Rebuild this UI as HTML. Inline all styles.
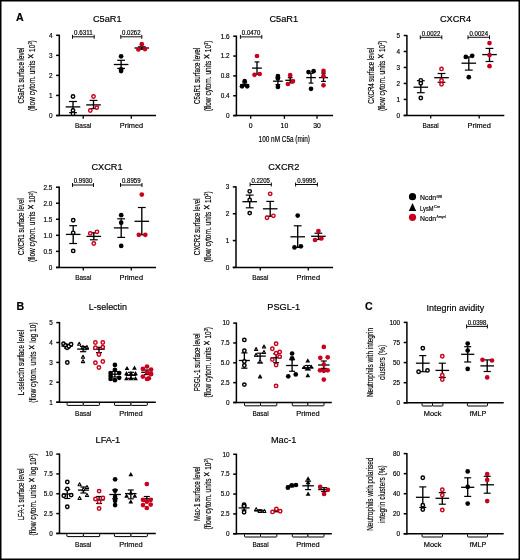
<!DOCTYPE html><html><head><meta charset="utf-8"><style>html,body{margin:0;padding:0;background:#fff;overflow:hidden;width:520px;height:560px;}svg{display:block;will-change:transform;} text{stroke:#000;stroke-width:0.18px;}</style></head><body><svg width="520" height="560" viewBox="0 0 520 560" font-family='"Liberation Sans", sans-serif'>
<rect x="0" y="0" width="520" height="560" fill="#fff"/>
<text x="16.1" y="21.0" font-size="10.6" text-anchor="start" font-weight="bold" fill="#000">A</text>
<text x="16.4" y="310.4" font-size="10.6" text-anchor="start" font-weight="bold" fill="#000">B</text>
<text x="365.1" y="310.4" font-size="10.6" text-anchor="start" font-weight="bold" fill="#000">C</text>
<line x1="59.3" y1="34.699999999999996" x2="59.3" y2="116.1" stroke="#000" stroke-width="1.5"/>
<line x1="56.099999999999994" y1="115.5" x2="156" y2="115.5" stroke="#000" stroke-width="1.5"/>
<line x1="56.099999999999994" y1="115.5" x2="59.3" y2="115.5" stroke="#000" stroke-width="1.5"/>
<text transform="translate(52.5,117.8) scale(0.89,1)" font-size="7.2" text-anchor="end" font-weight="normal" fill="#000" stroke-width="0.1">0</text>
<line x1="56.099999999999994" y1="95.45" x2="59.3" y2="95.45" stroke="#000" stroke-width="1.5"/>
<text transform="translate(52.5,97.75) scale(0.89,1)" font-size="7.2" text-anchor="end" font-weight="normal" fill="#000" stroke-width="0.1">1</text>
<line x1="56.099999999999994" y1="75.4" x2="59.3" y2="75.4" stroke="#000" stroke-width="1.5"/>
<text transform="translate(52.5,77.7) scale(0.89,1)" font-size="7.2" text-anchor="end" font-weight="normal" fill="#000" stroke-width="0.1">2</text>
<line x1="56.099999999999994" y1="55.35" x2="59.3" y2="55.35" stroke="#000" stroke-width="1.5"/>
<text transform="translate(52.5,57.65) scale(0.89,1)" font-size="7.2" text-anchor="end" font-weight="normal" fill="#000" stroke-width="0.1">3</text>
<line x1="56.099999999999994" y1="35.3" x2="59.3" y2="35.3" stroke="#000" stroke-width="1.5"/>
<text transform="translate(52.5,37.599999999999994) scale(0.89,1)" font-size="7.2" text-anchor="end" font-weight="normal" fill="#000" stroke-width="0.1">4</text>
<line x1="83.2" y1="115.5" x2="83.2" y2="118.7" stroke="#000" stroke-width="1.3"/>
<line x1="131.3" y1="115.5" x2="131.3" y2="118.7" stroke="#000" stroke-width="1.3"/>
<text x="83.1" y="127.6" font-size="7.6" text-anchor="middle" font-weight="normal" fill="#000" textLength="16.2" lengthAdjust="spacingAndGlyphs" stroke-width="0.1">Basal</text>
<text x="131.5" y="127.6" font-size="7.6" text-anchor="middle" font-weight="normal" fill="#000" textLength="23.4" lengthAdjust="spacingAndGlyphs" stroke-width="0.1">Primed</text>
<text x="107.2" y="21.5" font-size="9.2" text-anchor="middle" font-weight="normal" fill="#000" stroke-width="0.08">C5aR1</text>
<line x1="72.5" y1="36.8" x2="94.2" y2="36.8" stroke="#000" stroke-width="0.95"/>
<line x1="72.5" y1="34.8" x2="72.5" y2="38.8" stroke="#000" stroke-width="0.95"/>
<line x1="94.2" y1="34.8" x2="94.2" y2="38.8" stroke="#000" stroke-width="0.95"/>
<text x="83.35" y="35.0" font-size="6.6" text-anchor="middle" font-weight="normal" fill="#000" textLength="18.5" lengthAdjust="spacingAndGlyphs" stroke-width="0.05">0.6311</text>
<line x1="120.8" y1="36.8" x2="141.8" y2="36.8" stroke="#000" stroke-width="0.95"/>
<line x1="120.8" y1="34.8" x2="120.8" y2="38.8" stroke="#000" stroke-width="0.95"/>
<line x1="141.8" y1="34.8" x2="141.8" y2="38.8" stroke="#000" stroke-width="0.95"/>
<text x="131.3" y="35.0" font-size="6.6" text-anchor="middle" font-weight="normal" fill="#000" textLength="18.5" lengthAdjust="spacingAndGlyphs" stroke-width="0.05">0.0262</text>
<line x1="73.0" y1="101.5" x2="73.0" y2="112.6" stroke="#000" stroke-width="1.35"/>
<line x1="69.1" y1="101.5" x2="76.9" y2="101.5" stroke="#000" stroke-width="1.2"/>
<line x1="69.1" y1="112.6" x2="76.9" y2="112.6" stroke="#000" stroke-width="1.2"/>
<line x1="65.7" y1="106.9" x2="80.3" y2="106.9" stroke="#000" stroke-width="1.3"/>
<circle cx="73.0" cy="96.5" r="1.7" fill="#fff" stroke="#000" stroke-width="1.45"/>
<circle cx="73.0" cy="110.5" r="1.7" fill="#fff" stroke="#000" stroke-width="1.45"/>
<circle cx="73.0" cy="113.8" r="1.7" fill="#fff" stroke="#000" stroke-width="1.45"/>
<line x1="93.5" y1="100.4" x2="93.5" y2="108.6" stroke="#000" stroke-width="1.35"/>
<line x1="89.6" y1="100.4" x2="97.4" y2="100.4" stroke="#000" stroke-width="1.2"/>
<line x1="89.6" y1="108.6" x2="97.4" y2="108.6" stroke="#000" stroke-width="1.2"/>
<line x1="86.2" y1="104.9" x2="100.8" y2="104.9" stroke="#000" stroke-width="1.3"/>
<circle cx="93.5" cy="96.5" r="1.7" fill="#fff" stroke="#c8001c" stroke-width="1.45"/>
<circle cx="90.3" cy="110.5" r="1.7" fill="#fff" stroke="#c8001c" stroke-width="1.45"/>
<circle cx="96.8" cy="107.6" r="1.7" fill="#fff" stroke="#c8001c" stroke-width="1.45"/>
<line x1="121.1" y1="60.3" x2="121.1" y2="68.4" stroke="#000" stroke-width="1.35"/>
<line x1="117.19999999999999" y1="60.3" x2="125.0" y2="60.3" stroke="#000" stroke-width="1.2"/>
<line x1="117.19999999999999" y1="68.4" x2="125.0" y2="68.4" stroke="#000" stroke-width="1.2"/>
<line x1="113.8" y1="64.5" x2="128.4" y2="64.5" stroke="#000" stroke-width="1.3"/>
<circle cx="121.1" cy="56.3" r="2.35" fill="#000"/>
<circle cx="121.1" cy="69.4" r="2.35" fill="#000"/>
<circle cx="121.1" cy="71.1" r="2.35" fill="#000"/>
<line x1="141.8" y1="46.8" x2="141.8" y2="49.2" stroke="#000" stroke-width="1.35"/>
<line x1="137.9" y1="46.8" x2="145.70000000000002" y2="46.8" stroke="#000" stroke-width="1.2"/>
<line x1="137.9" y1="49.2" x2="145.70000000000002" y2="49.2" stroke="#000" stroke-width="1.2"/>
<line x1="134.5" y1="48.0" x2="149.10000000000002" y2="48.0" stroke="#000" stroke-width="1.3"/>
<circle cx="141.8" cy="44.2" r="2.35" fill="#c8001c"/>
<circle cx="138.4" cy="49.5" r="2.35" fill="#c8001c"/>
<circle cx="145.0" cy="49.1" r="2.35" fill="#c8001c"/>
<text transform="translate(23.5,75.6) rotate(-90)" x="0" y="0" font-size="9.6" text-anchor="middle" textLength="56" lengthAdjust="spacingAndGlyphs">C5aR1 surface level</text>
<text transform="translate(34.6,75.6) rotate(-90)" x="0" y="0" font-size="9.6" text-anchor="middle" textLength="70.6" lengthAdjust="spacingAndGlyphs">(flow cytom. units <tspan font-size="12.5">×</tspan> 10<tspan font-size="5.6" dy="-2.5">3</tspan><tspan dy="2.5">)</tspan></text>
<line x1="236.4" y1="35.6" x2="236.4" y2="116.19999999999999" stroke="#000" stroke-width="1.5"/>
<line x1="233.20000000000002" y1="115.6" x2="333" y2="115.6" stroke="#000" stroke-width="1.5"/>
<line x1="233.20000000000002" y1="115.6" x2="236.4" y2="115.6" stroke="#000" stroke-width="1.5"/>
<text transform="translate(229.6,117.89999999999999) scale(0.89,1)" font-size="7.2" text-anchor="end" font-weight="normal" fill="#000" stroke-width="0.1">0</text>
<line x1="233.20000000000002" y1="95.75" x2="236.4" y2="95.75" stroke="#000" stroke-width="1.5"/>
<text transform="translate(229.6,98.05) scale(0.89,1)" font-size="7.2" text-anchor="end" font-weight="normal" fill="#000" stroke-width="0.1">0.4</text>
<line x1="233.20000000000002" y1="75.9" x2="236.4" y2="75.9" stroke="#000" stroke-width="1.5"/>
<text transform="translate(229.6,78.2) scale(0.89,1)" font-size="7.2" text-anchor="end" font-weight="normal" fill="#000" stroke-width="0.1">0.8</text>
<line x1="233.20000000000002" y1="56.05" x2="236.4" y2="56.05" stroke="#000" stroke-width="1.5"/>
<text transform="translate(229.6,58.349999999999994) scale(0.89,1)" font-size="7.2" text-anchor="end" font-weight="normal" fill="#000" stroke-width="0.1">1.2</text>
<line x1="233.20000000000002" y1="36.2" x2="236.4" y2="36.2" stroke="#000" stroke-width="1.5"/>
<text transform="translate(229.6,38.5) scale(0.89,1)" font-size="7.2" text-anchor="end" font-weight="normal" fill="#000" stroke-width="0.1">1.6</text>
<line x1="250.7" y1="115.6" x2="250.7" y2="118.8" stroke="#000" stroke-width="1.3"/>
<line x1="284.4" y1="115.6" x2="284.4" y2="118.8" stroke="#000" stroke-width="1.3"/>
<line x1="317.0" y1="115.6" x2="317.0" y2="118.8" stroke="#000" stroke-width="1.3"/>
<text x="250.7" y="128.3" font-size="6.8" text-anchor="middle" font-weight="normal" fill="#000" stroke-width="0.1">0</text>
<text x="284.4" y="128.3" font-size="6.8" text-anchor="middle" font-weight="normal" fill="#000" stroke-width="0.1">10</text>
<text x="317.0" y="128.3" font-size="6.8" text-anchor="middle" font-weight="normal" fill="#000" stroke-width="0.1">30</text>
<text x="284.3" y="141.7" font-size="8.8" text-anchor="middle" font-weight="normal" fill="#000" textLength="51.4" lengthAdjust="spacingAndGlyphs">100 nM C5a (min)</text>
<text x="283.75" y="21.5" font-size="9.2" text-anchor="middle" font-weight="normal" fill="#000" stroke-width="0.08">C5aR1</text>
<line x1="240.4" y1="36.9" x2="261.8" y2="36.9" stroke="#000" stroke-width="0.95"/>
<line x1="240.4" y1="34.9" x2="240.4" y2="38.9" stroke="#000" stroke-width="0.95"/>
<line x1="261.8" y1="34.9" x2="261.8" y2="38.9" stroke="#000" stroke-width="0.95"/>
<text x="251.10000000000002" y="35.1" font-size="6.6" text-anchor="middle" font-weight="normal" fill="#000" textLength="18.5" lengthAdjust="spacingAndGlyphs" stroke-width="0.05">0.0470</text>
<line x1="244.7" y1="83.0" x2="244.7" y2="86.0" stroke="#000" stroke-width="1.35"/>
<line x1="242.2" y1="83.0" x2="247.2" y2="83.0" stroke="#000" stroke-width="1.2"/>
<line x1="242.2" y1="86.0" x2="247.2" y2="86.0" stroke="#000" stroke-width="1.2"/>
<line x1="240.2" y1="84.6" x2="249.2" y2="84.6" stroke="#000" stroke-width="1.3"/>
<circle cx="244.7" cy="81.2" r="2.35" fill="#000"/>
<circle cx="242.0" cy="86.3" r="2.35" fill="#000"/>
<circle cx="247.2" cy="86.3" r="2.35" fill="#000"/>
<line x1="257.0" y1="61.9" x2="257.0" y2="74.3" stroke="#000" stroke-width="1.35"/>
<line x1="254.6" y1="61.9" x2="259.4" y2="61.9" stroke="#000" stroke-width="1.2"/>
<line x1="254.6" y1="74.3" x2="259.4" y2="74.3" stroke="#000" stroke-width="1.2"/>
<line x1="252.1" y1="68.1" x2="261.9" y2="68.1" stroke="#000" stroke-width="1.3"/>
<circle cx="257.0" cy="56.0" r="2.35" fill="#c8001c"/>
<circle cx="254.5" cy="74.8" r="2.35" fill="#c8001c"/>
<circle cx="259.7" cy="74.0" r="2.35" fill="#c8001c"/>
<line x1="277.9" y1="77.5" x2="277.9" y2="84.6" stroke="#000" stroke-width="1.35"/>
<line x1="275.5" y1="77.5" x2="280.29999999999995" y2="77.5" stroke="#000" stroke-width="1.2"/>
<line x1="275.5" y1="84.6" x2="280.29999999999995" y2="84.6" stroke="#000" stroke-width="1.2"/>
<line x1="273.0" y1="81.2" x2="282.79999999999995" y2="81.2" stroke="#000" stroke-width="1.3"/>
<circle cx="277.9" cy="76.0" r="2.35" fill="#000"/>
<circle cx="277.9" cy="78.5" r="2.35" fill="#000"/>
<circle cx="277.9" cy="86.9" r="2.35" fill="#000"/>
<line x1="290.2" y1="77.7" x2="290.2" y2="82.9" stroke="#000" stroke-width="1.35"/>
<line x1="287.8" y1="77.7" x2="292.59999999999997" y2="77.7" stroke="#000" stroke-width="1.2"/>
<line x1="287.8" y1="82.9" x2="292.59999999999997" y2="82.9" stroke="#000" stroke-width="1.2"/>
<line x1="285.3" y1="80.3" x2="295.09999999999997" y2="80.3" stroke="#000" stroke-width="1.3"/>
<circle cx="290.2" cy="75.2" r="2.35" fill="#c8001c"/>
<circle cx="287.9" cy="84.0" r="2.35" fill="#c8001c"/>
<circle cx="292.8" cy="81.4" r="2.35" fill="#c8001c"/>
<line x1="311.0" y1="73.3" x2="311.0" y2="83.1" stroke="#000" stroke-width="1.35"/>
<line x1="308.6" y1="73.3" x2="313.4" y2="73.3" stroke="#000" stroke-width="1.2"/>
<line x1="308.6" y1="83.1" x2="313.4" y2="83.1" stroke="#000" stroke-width="1.2"/>
<line x1="306.2" y1="77.6" x2="315.8" y2="77.6" stroke="#000" stroke-width="1.3"/>
<circle cx="308.5" cy="72.1" r="2.35" fill="#000"/>
<circle cx="313.6" cy="71.2" r="2.35" fill="#000"/>
<circle cx="311.0" cy="88.8" r="2.35" fill="#000"/>
<line x1="323.5" y1="73.1" x2="323.5" y2="81.4" stroke="#000" stroke-width="1.35"/>
<line x1="321.1" y1="73.1" x2="325.9" y2="73.1" stroke="#000" stroke-width="1.2"/>
<line x1="321.1" y1="81.4" x2="325.9" y2="81.4" stroke="#000" stroke-width="1.2"/>
<line x1="318.9" y1="77.6" x2="328.1" y2="77.6" stroke="#000" stroke-width="1.3"/>
<circle cx="323.5" cy="70.9" r="2.35" fill="#c8001c"/>
<circle cx="323.5" cy="76.2" r="2.35" fill="#c8001c"/>
<circle cx="323.5" cy="85.3" r="2.35" fill="#c8001c"/>
<text transform="translate(199.8,75.9) rotate(-90)" x="0" y="0" font-size="9.6" text-anchor="middle" textLength="56" lengthAdjust="spacingAndGlyphs">C5aR1 surface level</text>
<text transform="translate(210.5,75.9) rotate(-90)" x="0" y="0" font-size="9.6" text-anchor="middle" textLength="70.6" lengthAdjust="spacingAndGlyphs">(flow cytom. units <tspan font-size="12.5">×</tspan> 10<tspan font-size="5.6" dy="-2.5">3</tspan><tspan dy="2.5">)</tspan></text>
<line x1="406.9" y1="34.9" x2="406.9" y2="116.0" stroke="#000" stroke-width="1.5"/>
<line x1="403.7" y1="115.4" x2="504.3" y2="115.4" stroke="#000" stroke-width="1.5"/>
<line x1="403.7" y1="115.4" x2="406.9" y2="115.4" stroke="#000" stroke-width="1.5"/>
<text transform="translate(400.09999999999997,117.7) scale(0.89,1)" font-size="7.2" text-anchor="end" font-weight="normal" fill="#000" stroke-width="0.1">0</text>
<line x1="403.7" y1="99.42" x2="406.9" y2="99.42" stroke="#000" stroke-width="1.5"/>
<text transform="translate(400.09999999999997,101.72) scale(0.89,1)" font-size="7.2" text-anchor="end" font-weight="normal" fill="#000" stroke-width="0.1">1</text>
<line x1="403.7" y1="83.44" x2="406.9" y2="83.44" stroke="#000" stroke-width="1.5"/>
<text transform="translate(400.09999999999997,85.74) scale(0.89,1)" font-size="7.2" text-anchor="end" font-weight="normal" fill="#000" stroke-width="0.1">2</text>
<line x1="403.7" y1="67.46" x2="406.9" y2="67.46" stroke="#000" stroke-width="1.5"/>
<text transform="translate(400.09999999999997,69.75999999999999) scale(0.89,1)" font-size="7.2" text-anchor="end" font-weight="normal" fill="#000" stroke-width="0.1">3</text>
<line x1="403.7" y1="51.48" x2="406.9" y2="51.48" stroke="#000" stroke-width="1.5"/>
<text transform="translate(400.09999999999997,53.779999999999994) scale(0.89,1)" font-size="7.2" text-anchor="end" font-weight="normal" fill="#000" stroke-width="0.1">4</text>
<line x1="403.7" y1="35.5" x2="406.9" y2="35.5" stroke="#000" stroke-width="1.5"/>
<text transform="translate(400.09999999999997,37.8) scale(0.89,1)" font-size="7.2" text-anchor="end" font-weight="normal" fill="#000" stroke-width="0.1">5</text>
<line x1="430.7" y1="115.3" x2="430.7" y2="118.5" stroke="#000" stroke-width="1.3"/>
<line x1="479.2" y1="115.3" x2="479.2" y2="118.5" stroke="#000" stroke-width="1.3"/>
<text x="430.7" y="127.6" font-size="7.6" text-anchor="middle" font-weight="normal" fill="#000" textLength="16.2" lengthAdjust="spacingAndGlyphs" stroke-width="0.1">Basal</text>
<text x="479.2" y="127.6" font-size="7.6" text-anchor="middle" font-weight="normal" fill="#000" textLength="23.4" lengthAdjust="spacingAndGlyphs" stroke-width="0.1">Primed</text>
<text x="455.5" y="21.5" font-size="9.2" text-anchor="middle" font-weight="normal" fill="#000" stroke-width="0.08">CXCR4</text>
<line x1="420.3" y1="37.3" x2="441.8" y2="37.3" stroke="#000" stroke-width="0.95"/>
<line x1="420.3" y1="35.3" x2="420.3" y2="39.3" stroke="#000" stroke-width="0.95"/>
<line x1="441.8" y1="35.3" x2="441.8" y2="39.3" stroke="#000" stroke-width="0.95"/>
<text x="431.05" y="35.5" font-size="6.6" text-anchor="middle" font-weight="normal" fill="#000" textLength="18.5" lengthAdjust="spacingAndGlyphs" stroke-width="0.05">0.0022</text>
<line x1="468.0" y1="37.3" x2="489.5" y2="37.3" stroke="#000" stroke-width="0.95"/>
<line x1="468.0" y1="35.3" x2="468.0" y2="39.3" stroke="#000" stroke-width="0.95"/>
<line x1="489.5" y1="35.3" x2="489.5" y2="39.3" stroke="#000" stroke-width="0.95"/>
<text x="478.75" y="35.5" font-size="6.6" text-anchor="middle" font-weight="normal" fill="#000" textLength="18.5" lengthAdjust="spacingAndGlyphs" stroke-width="0.05">0.0024</text>
<line x1="420.8" y1="80.7" x2="420.8" y2="92.7" stroke="#000" stroke-width="1.35"/>
<line x1="416.90000000000003" y1="80.7" x2="424.7" y2="80.7" stroke="#000" stroke-width="1.2"/>
<line x1="416.90000000000003" y1="92.7" x2="424.7" y2="92.7" stroke="#000" stroke-width="1.2"/>
<line x1="413.5" y1="87.2" x2="428.1" y2="87.2" stroke="#000" stroke-width="1.3"/>
<circle cx="420.8" cy="80.3" r="1.7" fill="#fff" stroke="#000" stroke-width="1.45"/>
<circle cx="420.8" cy="83.2" r="1.7" fill="#fff" stroke="#000" stroke-width="1.45"/>
<circle cx="420.8" cy="98.0" r="1.7" fill="#fff" stroke="#000" stroke-width="1.45"/>
<line x1="441.5" y1="73.5" x2="441.5" y2="82.3" stroke="#000" stroke-width="1.35"/>
<line x1="437.6" y1="73.5" x2="445.4" y2="73.5" stroke="#000" stroke-width="1.2"/>
<line x1="437.6" y1="82.3" x2="445.4" y2="82.3" stroke="#000" stroke-width="1.2"/>
<line x1="434.2" y1="77.7" x2="448.8" y2="77.7" stroke="#000" stroke-width="1.3"/>
<circle cx="441.5" cy="68.9" r="1.7" fill="#fff" stroke="#c8001c" stroke-width="1.45"/>
<circle cx="441.5" cy="80.5" r="1.7" fill="#fff" stroke="#c8001c" stroke-width="1.45"/>
<circle cx="441.5" cy="84.2" r="1.7" fill="#fff" stroke="#c8001c" stroke-width="1.45"/>
<line x1="468.8" y1="56.9" x2="468.8" y2="70.1" stroke="#000" stroke-width="1.35"/>
<line x1="464.90000000000003" y1="56.9" x2="472.7" y2="56.9" stroke="#000" stroke-width="1.2"/>
<line x1="464.90000000000003" y1="70.1" x2="472.7" y2="70.1" stroke="#000" stroke-width="1.2"/>
<line x1="461.5" y1="63.2" x2="476.1" y2="63.2" stroke="#000" stroke-width="1.3"/>
<circle cx="465.8" cy="56.9" r="2.35" fill="#000"/>
<circle cx="472.2" cy="55.8" r="2.35" fill="#000"/>
<circle cx="468.8" cy="77.2" r="2.35" fill="#000"/>
<line x1="489.5" y1="48.4" x2="489.5" y2="61.5" stroke="#000" stroke-width="1.35"/>
<line x1="485.6" y1="48.4" x2="493.4" y2="48.4" stroke="#000" stroke-width="1.2"/>
<line x1="485.6" y1="61.5" x2="493.4" y2="61.5" stroke="#000" stroke-width="1.2"/>
<line x1="482.2" y1="54.6" x2="496.8" y2="54.6" stroke="#000" stroke-width="1.3"/>
<circle cx="489.5" cy="43.1" r="2.35" fill="#c8001c"/>
<circle cx="489.5" cy="55.1" r="2.35" fill="#c8001c"/>
<circle cx="489.5" cy="66.2" r="2.35" fill="#c8001c"/>
<text transform="translate(373.5,75.8) rotate(-90)" x="0" y="0" font-size="9.6" text-anchor="middle" textLength="56" lengthAdjust="spacingAndGlyphs">CXCR4 surface level</text>
<text transform="translate(384.6,75.8) rotate(-90)" x="0" y="0" font-size="9.6" text-anchor="middle" textLength="70.6" lengthAdjust="spacingAndGlyphs">(flow cytom. units <tspan font-size="12.5">×</tspan> 10<tspan font-size="5.6" dy="-2.5">3</tspan><tspan dy="2.5">)</tspan></text>
<line x1="59.2" y1="186.6" x2="59.2" y2="268.0" stroke="#000" stroke-width="1.5"/>
<line x1="56.0" y1="267.4" x2="156" y2="267.4" stroke="#000" stroke-width="1.5"/>
<line x1="56.0" y1="267.4" x2="59.2" y2="267.4" stroke="#000" stroke-width="1.5"/>
<text transform="translate(52.400000000000006,269.7) scale(0.89,1)" font-size="7.2" text-anchor="end" font-weight="normal" fill="#000" stroke-width="0.1">0</text>
<line x1="56.0" y1="251.36" x2="59.2" y2="251.36" stroke="#000" stroke-width="1.5"/>
<text transform="translate(52.400000000000006,253.66000000000003) scale(0.89,1)" font-size="7.2" text-anchor="end" font-weight="normal" fill="#000" stroke-width="0.1">0.5</text>
<line x1="56.0" y1="235.32" x2="59.2" y2="235.32" stroke="#000" stroke-width="1.5"/>
<text transform="translate(52.400000000000006,237.62) scale(0.89,1)" font-size="7.2" text-anchor="end" font-weight="normal" fill="#000" stroke-width="0.1">1.0</text>
<line x1="56.0" y1="219.28" x2="59.2" y2="219.28" stroke="#000" stroke-width="1.5"/>
<text transform="translate(52.400000000000006,221.58) scale(0.89,1)" font-size="7.2" text-anchor="end" font-weight="normal" fill="#000" stroke-width="0.1">1.5</text>
<line x1="56.0" y1="203.24" x2="59.2" y2="203.24" stroke="#000" stroke-width="1.5"/>
<text transform="translate(52.400000000000006,205.54000000000002) scale(0.89,1)" font-size="7.2" text-anchor="end" font-weight="normal" fill="#000" stroke-width="0.1">2.0</text>
<line x1="56.0" y1="187.2" x2="59.2" y2="187.2" stroke="#000" stroke-width="1.5"/>
<text transform="translate(52.400000000000006,189.5) scale(0.89,1)" font-size="7.2" text-anchor="end" font-weight="normal" fill="#000" stroke-width="0.1">2.5</text>
<line x1="83.3" y1="267.4" x2="83.3" y2="270.59999999999997" stroke="#000" stroke-width="1.3"/>
<line x1="131.3" y1="267.4" x2="131.3" y2="270.59999999999997" stroke="#000" stroke-width="1.3"/>
<text x="83.3" y="280.2" font-size="7.6" text-anchor="middle" font-weight="normal" fill="#000" textLength="16.2" lengthAdjust="spacingAndGlyphs" stroke-width="0.1">Basal</text>
<text x="131.3" y="280.2" font-size="7.6" text-anchor="middle" font-weight="normal" fill="#000" textLength="23.4" lengthAdjust="spacingAndGlyphs" stroke-width="0.1">Primed</text>
<text x="107.0" y="170.3" font-size="9.2" text-anchor="middle" font-weight="normal" fill="#000" stroke-width="0.08">CXCR1</text>
<line x1="72.5" y1="185.0" x2="93.5" y2="185.0" stroke="#000" stroke-width="0.95"/>
<line x1="72.5" y1="183.0" x2="72.5" y2="187.0" stroke="#000" stroke-width="0.95"/>
<line x1="93.5" y1="183.0" x2="93.5" y2="187.0" stroke="#000" stroke-width="0.95"/>
<text x="83.0" y="183.2" font-size="6.6" text-anchor="middle" font-weight="normal" fill="#000" textLength="18.5" lengthAdjust="spacingAndGlyphs" stroke-width="0.05">0.9930</text>
<line x1="120.5" y1="185.0" x2="142.0" y2="185.0" stroke="#000" stroke-width="0.95"/>
<line x1="120.5" y1="183.0" x2="120.5" y2="187.0" stroke="#000" stroke-width="0.95"/>
<line x1="142.0" y1="183.0" x2="142.0" y2="187.0" stroke="#000" stroke-width="0.95"/>
<text x="131.25" y="183.2" font-size="6.6" text-anchor="middle" font-weight="normal" fill="#000" textLength="18.5" lengthAdjust="spacingAndGlyphs" stroke-width="0.05">0.8959</text>
<line x1="73.2" y1="225.7" x2="73.2" y2="243.5" stroke="#000" stroke-width="1.35"/>
<line x1="69.3" y1="225.7" x2="77.10000000000001" y2="225.7" stroke="#000" stroke-width="1.2"/>
<line x1="69.3" y1="243.5" x2="77.10000000000001" y2="243.5" stroke="#000" stroke-width="1.2"/>
<line x1="65.9" y1="234.4" x2="80.5" y2="234.4" stroke="#000" stroke-width="1.3"/>
<circle cx="73.2" cy="220.2" r="1.7" fill="#fff" stroke="#000" stroke-width="1.45"/>
<circle cx="73.2" cy="232.8" r="1.7" fill="#fff" stroke="#000" stroke-width="1.45"/>
<circle cx="73.2" cy="250.9" r="1.7" fill="#fff" stroke="#000" stroke-width="1.45"/>
<line x1="93.8" y1="232.8" x2="93.8" y2="239.8" stroke="#000" stroke-width="1.35"/>
<line x1="89.89999999999999" y1="232.8" x2="97.7" y2="232.8" stroke="#000" stroke-width="1.2"/>
<line x1="89.89999999999999" y1="239.8" x2="97.7" y2="239.8" stroke="#000" stroke-width="1.2"/>
<line x1="86.5" y1="236.4" x2="101.1" y2="236.4" stroke="#000" stroke-width="1.3"/>
<circle cx="90.3" cy="233.4" r="1.7" fill="#fff" stroke="#c8001c" stroke-width="1.45"/>
<circle cx="97.0" cy="231.8" r="1.7" fill="#fff" stroke="#c8001c" stroke-width="1.45"/>
<circle cx="93.8" cy="243.5" r="1.7" fill="#fff" stroke="#c8001c" stroke-width="1.45"/>
<line x1="121.2" y1="218.8" x2="121.2" y2="237.4" stroke="#000" stroke-width="1.35"/>
<line x1="117.3" y1="218.8" x2="125.10000000000001" y2="218.8" stroke="#000" stroke-width="1.2"/>
<line x1="117.3" y1="237.4" x2="125.10000000000001" y2="237.4" stroke="#000" stroke-width="1.2"/>
<line x1="113.9" y1="227.9" x2="128.5" y2="227.9" stroke="#000" stroke-width="1.3"/>
<circle cx="121.2" cy="215.2" r="2.35" fill="#000"/>
<circle cx="121.2" cy="222.7" r="2.35" fill="#000"/>
<circle cx="121.2" cy="245.9" r="2.35" fill="#000"/>
<line x1="141.8" y1="207.5" x2="141.8" y2="234.8" stroke="#000" stroke-width="1.35"/>
<line x1="137.9" y1="207.5" x2="145.70000000000002" y2="207.5" stroke="#000" stroke-width="1.2"/>
<line x1="137.9" y1="234.8" x2="145.70000000000002" y2="234.8" stroke="#000" stroke-width="1.2"/>
<line x1="134.5" y1="221.3" x2="149.10000000000002" y2="221.3" stroke="#000" stroke-width="1.3"/>
<circle cx="141.8" cy="194.6" r="2.35" fill="#c8001c"/>
<circle cx="138.8" cy="234.8" r="2.35" fill="#c8001c"/>
<circle cx="145.3" cy="234.8" r="2.35" fill="#c8001c"/>
<text transform="translate(24.0,226.6) rotate(-90)" x="0" y="0" font-size="9.6" text-anchor="middle" textLength="56.7" lengthAdjust="spacingAndGlyphs">CXCR1 surface level</text>
<text transform="translate(35.1,226.6) rotate(-90)" x="0" y="0" font-size="9.6" text-anchor="middle" textLength="70.9" lengthAdjust="spacingAndGlyphs">(flow cytom. units <tspan font-size="12.5">×</tspan> 10<tspan font-size="5.6" dy="-2.5">3</tspan><tspan dy="2.5">)</tspan></text>
<line x1="236.0" y1="186.3" x2="236.0" y2="268.0" stroke="#000" stroke-width="1.5"/>
<line x1="232.8" y1="267.4" x2="333" y2="267.4" stroke="#000" stroke-width="1.5"/>
<line x1="232.8" y1="267.4" x2="236.0" y2="267.4" stroke="#000" stroke-width="1.5"/>
<text transform="translate(229.2,269.7) scale(0.89,1)" font-size="7.2" text-anchor="end" font-weight="normal" fill="#000" stroke-width="0.1">0</text>
<line x1="232.8" y1="240.57" x2="236.0" y2="240.57" stroke="#000" stroke-width="1.5"/>
<text transform="translate(229.2,242.87) scale(0.89,1)" font-size="7.2" text-anchor="end" font-weight="normal" fill="#000" stroke-width="0.1">1</text>
<line x1="232.8" y1="213.73" x2="236.0" y2="213.73" stroke="#000" stroke-width="1.5"/>
<text transform="translate(229.2,216.03) scale(0.89,1)" font-size="7.2" text-anchor="end" font-weight="normal" fill="#000" stroke-width="0.1">2</text>
<line x1="232.8" y1="186.9" x2="236.0" y2="186.9" stroke="#000" stroke-width="1.5"/>
<text transform="translate(229.2,189.20000000000002) scale(0.89,1)" font-size="7.2" text-anchor="end" font-weight="normal" fill="#000" stroke-width="0.1">3</text>
<line x1="260.3" y1="267.4" x2="260.3" y2="270.59999999999997" stroke="#000" stroke-width="1.3"/>
<line x1="308.3" y1="267.4" x2="308.3" y2="270.59999999999997" stroke="#000" stroke-width="1.3"/>
<text x="260.3" y="280.40000000000003" font-size="7.6" text-anchor="middle" font-weight="normal" fill="#000" textLength="16.2" lengthAdjust="spacingAndGlyphs" stroke-width="0.1">Basal</text>
<text x="308.3" y="280.40000000000003" font-size="7.6" text-anchor="middle" font-weight="normal" fill="#000" textLength="23.4" lengthAdjust="spacingAndGlyphs" stroke-width="0.1">Primed</text>
<text x="283.8" y="170.3" font-size="9.2" text-anchor="middle" font-weight="normal" fill="#000" stroke-width="0.08">CXCR2</text>
<line x1="250.1" y1="184.5" x2="271.3" y2="184.5" stroke="#000" stroke-width="0.95"/>
<line x1="250.1" y1="182.5" x2="250.1" y2="186.5" stroke="#000" stroke-width="0.95"/>
<line x1="271.3" y1="182.5" x2="271.3" y2="186.5" stroke="#000" stroke-width="0.95"/>
<text x="260.7" y="182.7" font-size="6.6" text-anchor="middle" font-weight="normal" fill="#000" textLength="18.5" lengthAdjust="spacingAndGlyphs" stroke-width="0.05">0.2205</text>
<line x1="295.6" y1="184.5" x2="317.4" y2="184.5" stroke="#000" stroke-width="0.95"/>
<line x1="295.6" y1="182.5" x2="295.6" y2="186.5" stroke="#000" stroke-width="0.95"/>
<line x1="317.4" y1="182.5" x2="317.4" y2="186.5" stroke="#000" stroke-width="0.95"/>
<text x="306.5" y="182.7" font-size="6.6" text-anchor="middle" font-weight="normal" fill="#000" textLength="18.5" lengthAdjust="spacingAndGlyphs" stroke-width="0.05">0.9995</text>
<line x1="249.7" y1="195.1" x2="249.7" y2="207.8" stroke="#000" stroke-width="1.35"/>
<line x1="245.79999999999998" y1="195.1" x2="253.6" y2="195.1" stroke="#000" stroke-width="1.2"/>
<line x1="245.79999999999998" y1="207.8" x2="253.6" y2="207.8" stroke="#000" stroke-width="1.2"/>
<line x1="242.39999999999998" y1="201.7" x2="257.0" y2="201.7" stroke="#000" stroke-width="1.3"/>
<circle cx="249.7" cy="191.3" r="1.7" fill="#fff" stroke="#000" stroke-width="1.45"/>
<circle cx="249.7" cy="200.0" r="1.7" fill="#fff" stroke="#000" stroke-width="1.45"/>
<circle cx="249.7" cy="213.1" r="1.7" fill="#fff" stroke="#000" stroke-width="1.45"/>
<line x1="270.2" y1="201.4" x2="270.2" y2="216.3" stroke="#000" stroke-width="1.35"/>
<line x1="266.3" y1="201.4" x2="274.09999999999997" y2="201.4" stroke="#000" stroke-width="1.2"/>
<line x1="266.3" y1="216.3" x2="274.09999999999997" y2="216.3" stroke="#000" stroke-width="1.2"/>
<line x1="262.9" y1="208.8" x2="277.5" y2="208.8" stroke="#000" stroke-width="1.3"/>
<circle cx="270.2" cy="193.8" r="1.7" fill="#fff" stroke="#c8001c" stroke-width="1.45"/>
<circle cx="267.0" cy="217.7" r="1.7" fill="#fff" stroke="#c8001c" stroke-width="1.45"/>
<circle cx="273.4" cy="215.8" r="1.7" fill="#fff" stroke="#c8001c" stroke-width="1.45"/>
<line x1="297.7" y1="225.8" x2="297.7" y2="247.4" stroke="#000" stroke-width="1.35"/>
<line x1="293.8" y1="225.8" x2="301.59999999999997" y2="225.8" stroke="#000" stroke-width="1.2"/>
<line x1="293.8" y1="247.4" x2="301.59999999999997" y2="247.4" stroke="#000" stroke-width="1.2"/>
<line x1="290.4" y1="236.8" x2="305.0" y2="236.8" stroke="#000" stroke-width="1.3"/>
<circle cx="297.7" cy="215.6" r="2.35" fill="#000"/>
<circle cx="294.5" cy="247.4" r="2.35" fill="#000"/>
<circle cx="300.9" cy="246.3" r="2.35" fill="#000"/>
<line x1="318.4" y1="233.2" x2="318.4" y2="239.5" stroke="#000" stroke-width="1.35"/>
<line x1="314.5" y1="233.2" x2="322.29999999999995" y2="233.2" stroke="#000" stroke-width="1.2"/>
<line x1="314.5" y1="239.5" x2="322.29999999999995" y2="239.5" stroke="#000" stroke-width="1.2"/>
<line x1="311.09999999999997" y1="236.3" x2="325.7" y2="236.3" stroke="#000" stroke-width="1.3"/>
<circle cx="318.4" cy="231.1" r="2.35" fill="#c8001c"/>
<circle cx="315.0" cy="240.0" r="2.35" fill="#c8001c"/>
<circle cx="321.4" cy="238.5" r="2.35" fill="#c8001c"/>
<text transform="translate(199.8,226.8) rotate(-90)" x="0" y="0" font-size="9.6" text-anchor="middle" textLength="56.7" lengthAdjust="spacingAndGlyphs">CXCR2 surface level</text>
<text transform="translate(210.8,226.8) rotate(-90)" x="0" y="0" font-size="9.6" text-anchor="middle" textLength="70.9" lengthAdjust="spacingAndGlyphs">(flow cytom. units <tspan font-size="12.5">×</tspan> 10<tspan font-size="5.6" dy="-2.5">3</tspan><tspan dy="2.5">)</tspan></text>
<circle cx="412.5" cy="196.7" r="3.6" fill="#000"/>
<path d="M412.5,203.1 L416.2,210.9 L408.8,210.9 Z" fill="#000"/>
<circle cx="412.5" cy="217.3" r="3.6" fill="#c8001c"/>
<text x="420.1" y="200.2" font-size="7.2" textLength="16" lengthAdjust="spacingAndGlyphs">Ncdn</text>
<text x="436.6" y="197.6" font-size="3.9" textLength="5.3" lengthAdjust="spacingAndGlyphs" stroke-width="0" fill="#222">fl/fl</text>
<text x="420.1" y="210.6" font-size="7.2" textLength="13.4" lengthAdjust="spacingAndGlyphs">LysM</text>
<text x="434.0" y="208.0" font-size="3.9" textLength="6.3" lengthAdjust="spacingAndGlyphs" stroke-width="0" fill="#222">Cre</text>
<text x="420.1" y="221.0" font-size="7.2" textLength="16" lengthAdjust="spacingAndGlyphs">Ncdn</text>
<text x="436.6" y="218.4" font-size="3.9" textLength="9.2" lengthAdjust="spacingAndGlyphs" stroke-width="0" fill="#222">&#916;myel</text>
<line x1="59.5" y1="322.0" x2="59.5" y2="402.8" stroke="#000" stroke-width="1.5"/>
<line x1="56.3" y1="402.2" x2="155.8" y2="402.2" stroke="#000" stroke-width="1.5"/>
<line x1="56.3" y1="402.2" x2="59.5" y2="402.2" stroke="#000" stroke-width="1.5"/>
<text transform="translate(52.7,404.5) scale(0.89,1)" font-size="7.2" text-anchor="end" font-weight="normal" fill="#000" stroke-width="0.1">1</text>
<line x1="56.3" y1="382.3" x2="59.5" y2="382.3" stroke="#000" stroke-width="1.5"/>
<text transform="translate(52.7,384.6) scale(0.89,1)" font-size="7.2" text-anchor="end" font-weight="normal" fill="#000" stroke-width="0.1">2</text>
<line x1="56.3" y1="362.4" x2="59.5" y2="362.4" stroke="#000" stroke-width="1.5"/>
<text transform="translate(52.7,364.7) scale(0.89,1)" font-size="7.2" text-anchor="end" font-weight="normal" fill="#000" stroke-width="0.1">3</text>
<line x1="56.3" y1="342.5" x2="59.5" y2="342.5" stroke="#000" stroke-width="1.5"/>
<text transform="translate(52.7,344.8) scale(0.89,1)" font-size="7.2" text-anchor="end" font-weight="normal" fill="#000" stroke-width="0.1">4</text>
<line x1="56.3" y1="322.6" x2="59.5" y2="322.6" stroke="#000" stroke-width="1.5"/>
<text transform="translate(52.7,324.90000000000003) scale(0.89,1)" font-size="7.2" text-anchor="end" font-weight="normal" fill="#000" stroke-width="0.1">5</text>
<rect x="67.1" y="402.4" width="16.200000000000003" height="3.0" fill="#fff" stroke="#000" stroke-width="1.0" rx="0.6"/>
<rect x="83.3" y="402.4" width="16.10000000000001" height="3.0" fill="#fff" stroke="#000" stroke-width="1.0" rx="0.6"/>
<rect x="114.5" y="402.4" width="16.5" height="3.0" fill="#fff" stroke="#000" stroke-width="1.0" rx="0.6"/>
<rect x="131.0" y="402.4" width="16.30000000000001" height="3.0" fill="#fff" stroke="#000" stroke-width="1.0" rx="0.6"/>
<text x="83.2" y="415.90000000000003" font-size="7.6" text-anchor="middle" font-weight="normal" fill="#000" textLength="16.2" lengthAdjust="spacingAndGlyphs" stroke-width="0.1">Basal</text>
<text x="131.0" y="415.90000000000003" font-size="7.6" text-anchor="middle" font-weight="normal" fill="#000" textLength="23.4" lengthAdjust="spacingAndGlyphs" stroke-width="0.1">Primed</text>
<text x="107.9" y="310.2" font-size="9.2" text-anchor="middle" font-weight="normal" fill="#000" textLength="38.2" lengthAdjust="spacingAndGlyphs" stroke-width="0.08">L-selectin</text>
<line x1="67.1" y1="344.3" x2="67.1" y2="348.2" stroke="#000" stroke-width="1.35"/>
<line x1="64.1" y1="344.3" x2="70.1" y2="344.3" stroke="#000" stroke-width="1.2"/>
<line x1="64.1" y1="348.2" x2="70.1" y2="348.2" stroke="#000" stroke-width="1.2"/>
<line x1="61.49999999999999" y1="346.2" x2="72.69999999999999" y2="346.2" stroke="#000" stroke-width="1.3"/>
<circle cx="63.5" cy="343.7" r="1.7" fill="#fff" stroke="#000" stroke-width="1.45"/>
<circle cx="65.5" cy="345.4" r="1.7" fill="#fff" stroke="#000" stroke-width="1.45"/>
<circle cx="67.1" cy="347.8" r="1.7" fill="#fff" stroke="#000" stroke-width="1.45"/>
<circle cx="68.9" cy="346.3" r="1.7" fill="#fff" stroke="#000" stroke-width="1.45"/>
<circle cx="71.1" cy="344.2" r="1.7" fill="#fff" stroke="#000" stroke-width="1.45"/>
<circle cx="67.3" cy="362.5" r="1.7" fill="#fff" stroke="#000" stroke-width="1.45"/>
<line x1="83.1" y1="346.5" x2="83.1" y2="351.7" stroke="#000" stroke-width="1.35"/>
<line x1="80.0" y1="346.5" x2="86.19999999999999" y2="346.5" stroke="#000" stroke-width="1.2"/>
<line x1="80.0" y1="351.7" x2="86.19999999999999" y2="351.7" stroke="#000" stroke-width="1.2"/>
<line x1="77.19999999999999" y1="349.1" x2="89.0" y2="349.1" stroke="#000" stroke-width="1.3"/>
<path d="M79.2,342.25 L80.8,345.2 L77.60000000000001,345.2 Z" fill="#fff" stroke="#000" stroke-width="1.1" stroke-linejoin="round"/>
<path d="M83.0,345.45 L84.6,348.4 L81.4,348.4 Z" fill="#fff" stroke="#000" stroke-width="1.1" stroke-linejoin="round"/>
<path d="M86.9,345.45 L88.5,348.4 L85.30000000000001,348.4 Z" fill="#fff" stroke="#000" stroke-width="1.1" stroke-linejoin="round"/>
<path d="M84.8,346.85 L86.39999999999999,349.8 L83.2,349.8 Z" fill="#fff" stroke="#000" stroke-width="1.1" stroke-linejoin="round"/>
<path d="M83.0,355.25 L84.6,358.2 L81.4,358.2 Z" fill="#fff" stroke="#000" stroke-width="1.1" stroke-linejoin="round"/>
<path d="M83.0,359.65 L84.6,362.59999999999997 L81.4,362.59999999999997 Z" fill="#fff" stroke="#000" stroke-width="1.1" stroke-linejoin="round"/>
<line x1="99.0" y1="347.3" x2="99.0" y2="352.6" stroke="#000" stroke-width="1.35"/>
<line x1="96.0" y1="347.3" x2="102.0" y2="347.3" stroke="#000" stroke-width="1.2"/>
<line x1="96.0" y1="352.6" x2="102.0" y2="352.6" stroke="#000" stroke-width="1.2"/>
<line x1="93.2" y1="349.2" x2="104.8" y2="349.2" stroke="#000" stroke-width="1.3"/>
<circle cx="95.4" cy="342.5" r="1.7" fill="#fff" stroke="#c8001c" stroke-width="1.45"/>
<circle cx="102.8" cy="342.5" r="1.7" fill="#fff" stroke="#c8001c" stroke-width="1.45"/>
<circle cx="95.4" cy="347.8" r="1.7" fill="#fff" stroke="#c8001c" stroke-width="1.45"/>
<circle cx="102.8" cy="347.1" r="1.7" fill="#fff" stroke="#c8001c" stroke-width="1.45"/>
<circle cx="98.9" cy="354.5" r="1.7" fill="#fff" stroke="#c8001c" stroke-width="1.45"/>
<circle cx="95.4" cy="362.7" r="1.7" fill="#fff" stroke="#c8001c" stroke-width="1.45"/>
<circle cx="102.8" cy="361.5" r="1.7" fill="#fff" stroke="#c8001c" stroke-width="1.45"/>
<circle cx="98.9" cy="367.5" r="1.7" fill="#fff" stroke="#c8001c" stroke-width="1.45"/>
<line x1="114.9" y1="371.5" x2="114.9" y2="377.0" stroke="#000" stroke-width="1.35"/>
<line x1="111.9" y1="371.5" x2="117.9" y2="371.5" stroke="#000" stroke-width="1.2"/>
<line x1="111.9" y1="377.0" x2="117.9" y2="377.0" stroke="#000" stroke-width="1.2"/>
<line x1="109.4" y1="374.2" x2="120.4" y2="374.2" stroke="#000" stroke-width="1.3"/>
<circle cx="114.9" cy="364.9" r="2.35" fill="#000"/>
<circle cx="114.9" cy="369.8" r="2.35" fill="#000"/>
<circle cx="110.6" cy="373.0" r="2.35" fill="#000"/>
<circle cx="119.2" cy="373.0" r="2.35" fill="#000"/>
<circle cx="110.6" cy="376.0" r="2.35" fill="#000"/>
<circle cx="119.2" cy="377.8" r="2.35" fill="#000"/>
<circle cx="110.6" cy="379.0" r="2.35" fill="#000"/>
<circle cx="114.9" cy="380.2" r="2.35" fill="#000"/>
<line x1="131.0" y1="372.3" x2="131.0" y2="378.3" stroke="#000" stroke-width="1.35"/>
<line x1="128.0" y1="372.3" x2="134.0" y2="372.3" stroke="#000" stroke-width="1.2"/>
<line x1="128.0" y1="378.3" x2="134.0" y2="378.3" stroke="#000" stroke-width="1.2"/>
<line x1="125.5" y1="375.3" x2="136.5" y2="375.3" stroke="#000" stroke-width="1.3"/>
<path d="M127.0,365.9 L129.4,370.09999999999997 L124.6,370.09999999999997 Z" fill="#000"/>
<path d="M134.5,365.6 L136.9,369.8 L132.1,369.8 Z" fill="#000"/>
<path d="M126.5,371.0 L128.9,375.2 L124.1,375.2 Z" fill="#000"/>
<path d="M131.0,371.0 L133.4,375.2 L128.6,375.2 Z" fill="#000"/>
<path d="M135.5,371.0 L137.9,375.2 L133.1,375.2 Z" fill="#000"/>
<path d="M126.5,376.0 L128.9,380.2 L124.1,380.2 Z" fill="#000"/>
<path d="M131.0,376.0 L133.4,380.2 L128.6,380.2 Z" fill="#000"/>
<path d="M135.5,376.0 L137.9,380.2 L133.1,380.2 Z" fill="#000"/>
<line x1="147.0" y1="370.0" x2="147.0" y2="374.6" stroke="#000" stroke-width="1.35"/>
<line x1="144.0" y1="370.0" x2="150.0" y2="370.0" stroke="#000" stroke-width="1.2"/>
<line x1="144.0" y1="374.6" x2="150.0" y2="374.6" stroke="#000" stroke-width="1.2"/>
<line x1="141.2" y1="372.3" x2="152.8" y2="372.3" stroke="#000" stroke-width="1.3"/>
<circle cx="147.0" cy="366.5" r="2.35" fill="#c8001c"/>
<circle cx="142.9" cy="368.9" r="2.35" fill="#c8001c"/>
<circle cx="151.1" cy="369.6" r="2.35" fill="#c8001c"/>
<circle cx="147.0" cy="372.5" r="2.35" fill="#c8001c"/>
<circle cx="151.1" cy="374.2" r="2.35" fill="#c8001c"/>
<circle cx="142.9" cy="376.6" r="2.35" fill="#c8001c"/>
<circle cx="147.0" cy="379.0" r="2.35" fill="#c8001c"/>
<circle cx="148.9" cy="378.3" r="2.35" fill="#c8001c"/>
<text transform="translate(24.0,362.6) rotate(-90)" x="0" y="0" font-size="9.6" text-anchor="middle" textLength="65.8" lengthAdjust="spacingAndGlyphs">L-selectin surface level</text>
<text transform="translate(35.5,362.6) rotate(-90)" x="0" y="0" font-size="9.6" text-anchor="middle" textLength="80.4" lengthAdjust="spacingAndGlyphs">(flow cytom. units <tspan font-size="12.5">×</tspan> log 10)</text>
<line x1="236.4" y1="322.5" x2="236.4" y2="403.1" stroke="#000" stroke-width="1.5"/>
<line x1="233.20000000000002" y1="402.5" x2="331.8" y2="402.5" stroke="#000" stroke-width="1.5"/>
<line x1="233.20000000000002" y1="402.5" x2="236.4" y2="402.5" stroke="#000" stroke-width="1.5"/>
<text transform="translate(229.6,404.8) scale(0.89,1)" font-size="7.2" text-anchor="end" font-weight="normal" fill="#000" stroke-width="0.1">0</text>
<line x1="233.20000000000002" y1="382.65" x2="236.4" y2="382.65" stroke="#000" stroke-width="1.5"/>
<text transform="translate(229.6,384.95) scale(0.89,1)" font-size="7.2" text-anchor="end" font-weight="normal" fill="#000" stroke-width="0.1">2.5</text>
<line x1="233.20000000000002" y1="362.8" x2="236.4" y2="362.8" stroke="#000" stroke-width="1.5"/>
<text transform="translate(229.6,365.1) scale(0.89,1)" font-size="7.2" text-anchor="end" font-weight="normal" fill="#000" stroke-width="0.1">5.0</text>
<line x1="233.20000000000002" y1="342.95" x2="236.4" y2="342.95" stroke="#000" stroke-width="1.5"/>
<text transform="translate(229.6,345.25) scale(0.89,1)" font-size="7.2" text-anchor="end" font-weight="normal" fill="#000" stroke-width="0.1">7.5</text>
<line x1="233.20000000000002" y1="323.1" x2="236.4" y2="323.1" stroke="#000" stroke-width="1.5"/>
<text transform="translate(229.6,325.40000000000003) scale(0.89,1)" font-size="7.2" text-anchor="end" font-weight="normal" fill="#000" stroke-width="0.1">10</text>
<rect x="244.5" y="402.8" width="16.0" height="3.0" fill="#fff" stroke="#000" stroke-width="1.0" rx="0.6"/>
<rect x="260.5" y="402.8" width="16.30000000000001" height="3.0" fill="#fff" stroke="#000" stroke-width="1.0" rx="0.6"/>
<rect x="292.3" y="402.8" width="15.599999999999966" height="3.0" fill="#fff" stroke="#000" stroke-width="1.0" rx="0.6"/>
<rect x="307.9" y="402.8" width="16.100000000000023" height="3.0" fill="#fff" stroke="#000" stroke-width="1.0" rx="0.6"/>
<text x="260.5" y="415.90000000000003" font-size="7.6" text-anchor="middle" font-weight="normal" fill="#000" textLength="16.2" lengthAdjust="spacingAndGlyphs" stroke-width="0.1">Basal</text>
<text x="308.0" y="415.90000000000003" font-size="7.6" text-anchor="middle" font-weight="normal" fill="#000" textLength="23.4" lengthAdjust="spacingAndGlyphs" stroke-width="0.1">Primed</text>
<text x="283.7" y="310.1" font-size="9.2" text-anchor="middle" font-weight="normal" fill="#000" stroke-width="0.08">PSGL-1</text>
<line x1="244.35" y1="352.9" x2="244.35" y2="368.2" stroke="#000" stroke-width="1.35"/>
<line x1="241.25" y1="352.9" x2="247.45" y2="352.9" stroke="#000" stroke-width="1.2"/>
<line x1="241.25" y1="368.2" x2="247.45" y2="368.2" stroke="#000" stroke-width="1.2"/>
<line x1="238.85" y1="360.5" x2="249.85" y2="360.5" stroke="#000" stroke-width="1.3"/>
<circle cx="244.35" cy="339.9" r="1.7" fill="#fff" stroke="#000" stroke-width="1.45"/>
<circle cx="244.35" cy="350.7" r="1.7" fill="#fff" stroke="#000" stroke-width="1.45"/>
<circle cx="244.35" cy="361.5" r="1.7" fill="#fff" stroke="#000" stroke-width="1.45"/>
<circle cx="244.35" cy="365.5" r="1.7" fill="#fff" stroke="#000" stroke-width="1.45"/>
<circle cx="244.35" cy="384.6" r="1.7" fill="#fff" stroke="#000" stroke-width="1.45"/>
<line x1="260.1" y1="353.2" x2="260.1" y2="363.0" stroke="#000" stroke-width="1.35"/>
<line x1="257.1" y1="353.2" x2="263.1" y2="353.2" stroke="#000" stroke-width="1.2"/>
<line x1="257.1" y1="363.0" x2="263.1" y2="363.0" stroke="#000" stroke-width="1.2"/>
<line x1="254.40000000000003" y1="356.1" x2="265.8" y2="356.1" stroke="#000" stroke-width="1.3"/>
<path d="M256.1,347.45 L257.70000000000005,350.4 L254.50000000000003,350.4 Z" fill="#fff" stroke="#000" stroke-width="1.1" stroke-linejoin="round"/>
<path d="M264.0,345.05 L265.6,348.0 L262.4,348.0 Z" fill="#fff" stroke="#000" stroke-width="1.1" stroke-linejoin="round"/>
<path d="M264.0,350.45 L265.6,353.4 L262.4,353.4 Z" fill="#fff" stroke="#000" stroke-width="1.1" stroke-linejoin="round"/>
<path d="M256.1,353.35 L257.70000000000005,356.3 L254.50000000000003,356.3 Z" fill="#fff" stroke="#000" stroke-width="1.1" stroke-linejoin="round"/>
<path d="M260.1,359.75 L261.70000000000005,362.7 L258.5,362.7 Z" fill="#fff" stroke="#000" stroke-width="1.1" stroke-linejoin="round"/>
<path d="M260.1,374.95 L261.70000000000005,377.9 L258.5,377.9 Z" fill="#fff" stroke="#000" stroke-width="1.1" stroke-linejoin="round"/>
<line x1="276.1" y1="353.7" x2="276.1" y2="362.7" stroke="#000" stroke-width="1.35"/>
<line x1="273.1" y1="353.7" x2="279.1" y2="353.7" stroke="#000" stroke-width="1.2"/>
<line x1="273.1" y1="362.7" x2="279.1" y2="362.7" stroke="#000" stroke-width="1.2"/>
<line x1="270.6" y1="357.8" x2="281.6" y2="357.8" stroke="#000" stroke-width="1.3"/>
<circle cx="276.1" cy="343.8" r="1.7" fill="#fff" stroke="#c8001c" stroke-width="1.45"/>
<circle cx="272.3" cy="348.8" r="1.7" fill="#fff" stroke="#c8001c" stroke-width="1.45"/>
<circle cx="279.7" cy="351.9" r="1.7" fill="#fff" stroke="#c8001c" stroke-width="1.45"/>
<circle cx="276.1" cy="353.2" r="1.7" fill="#fff" stroke="#c8001c" stroke-width="1.45"/>
<circle cx="279.7" cy="356.6" r="1.7" fill="#fff" stroke="#c8001c" stroke-width="1.45"/>
<circle cx="272.3" cy="359.6" r="1.7" fill="#fff" stroke="#c8001c" stroke-width="1.45"/>
<circle cx="276.1" cy="365.0" r="1.7" fill="#fff" stroke="#c8001c" stroke-width="1.45"/>
<circle cx="276.1" cy="385.9" r="1.7" fill="#fff" stroke="#c8001c" stroke-width="1.45"/>
<line x1="292.1" y1="359.7" x2="292.1" y2="371.25" stroke="#000" stroke-width="1.35"/>
<line x1="289.1" y1="359.7" x2="295.1" y2="359.7" stroke="#000" stroke-width="1.2"/>
<line x1="289.1" y1="371.25" x2="295.1" y2="371.25" stroke="#000" stroke-width="1.2"/>
<line x1="286.1" y1="365.5" x2="298.1" y2="365.5" stroke="#000" stroke-width="1.3"/>
<circle cx="292.1" cy="353.5" r="2.35" fill="#000"/>
<circle cx="292.1" cy="358.3" r="2.35" fill="#000"/>
<circle cx="288.25" cy="376.3" r="2.35" fill="#000"/>
<circle cx="295.75" cy="374.4" r="2.35" fill="#000"/>
<line x1="307.8" y1="365.5" x2="307.8" y2="370.0" stroke="#000" stroke-width="1.35"/>
<line x1="304.8" y1="365.5" x2="310.8" y2="365.5" stroke="#000" stroke-width="1.2"/>
<line x1="304.8" y1="370.0" x2="310.8" y2="370.0" stroke="#000" stroke-width="1.2"/>
<line x1="302.3" y1="367.8" x2="313.3" y2="367.8" stroke="#000" stroke-width="1.3"/>
<path d="M307.8,358.2 L310.2,362.4 L305.40000000000003,362.4 Z" fill="#000"/>
<path d="M304.1,364.9 L306.5,369.09999999999997 L301.70000000000005,369.09999999999997 Z" fill="#000"/>
<path d="M311.3,364.4 L313.7,368.59999999999997 L308.90000000000003,368.59999999999997 Z" fill="#000"/>
<path d="M307.8,365.9 L310.2,370.09999999999997 L305.40000000000003,370.09999999999997 Z" fill="#000"/>
<path d="M307.8,373.1 L310.2,377.3 L305.40000000000003,377.3 Z" fill="#000"/>
<line x1="323.8" y1="361.0" x2="323.8" y2="368.4" stroke="#000" stroke-width="1.35"/>
<line x1="320.8" y1="361.0" x2="326.8" y2="361.0" stroke="#000" stroke-width="1.2"/>
<line x1="320.8" y1="368.4" x2="326.8" y2="368.4" stroke="#000" stroke-width="1.2"/>
<line x1="318.0" y1="365.0" x2="329.6" y2="365.0" stroke="#000" stroke-width="1.3"/>
<circle cx="323.8" cy="346.9" r="2.35" fill="#c8001c"/>
<circle cx="320.3" cy="357.8" r="2.35" fill="#c8001c"/>
<circle cx="327.7" cy="357.3" r="2.35" fill="#c8001c"/>
<circle cx="323.8" cy="364.5" r="2.35" fill="#c8001c"/>
<circle cx="320.0" cy="370.3" r="2.35" fill="#c8001c"/>
<circle cx="323.8" cy="370.8" r="2.35" fill="#c8001c"/>
<circle cx="327.7" cy="370.3" r="2.35" fill="#c8001c"/>
<circle cx="323.8" cy="379.6" r="2.35" fill="#c8001c"/>
<text transform="translate(199.8,362.3) rotate(-90)" x="0" y="0" font-size="9.6" text-anchor="middle" textLength="58" lengthAdjust="spacingAndGlyphs">PSGL-1 surface level</text>
<text transform="translate(210.9,362.3) rotate(-90)" x="0" y="0" font-size="9.6" text-anchor="middle" textLength="70.5" lengthAdjust="spacingAndGlyphs">(flow cytom. units <tspan font-size="12.5">×</tspan> 10<tspan font-size="5.6" dy="-2.5">3</tspan><tspan dy="2.5">)</tspan></text>
<line x1="406.9" y1="321.79999999999995" x2="406.9" y2="403.40000000000003" stroke="#000" stroke-width="1.5"/>
<line x1="403.7" y1="402.8" x2="503.7" y2="402.8" stroke="#000" stroke-width="1.5"/>
<line x1="403.7" y1="402.8" x2="406.9" y2="402.8" stroke="#000" stroke-width="1.5"/>
<text transform="translate(400.09999999999997,405.1) scale(0.89,1)" font-size="7.2" text-anchor="end" font-weight="normal" fill="#000" stroke-width="0.1">0</text>
<line x1="403.7" y1="382.7" x2="406.9" y2="382.7" stroke="#000" stroke-width="1.5"/>
<text transform="translate(400.09999999999997,385.0) scale(0.89,1)" font-size="7.2" text-anchor="end" font-weight="normal" fill="#000" stroke-width="0.1">25</text>
<line x1="403.7" y1="362.6" x2="406.9" y2="362.6" stroke="#000" stroke-width="1.5"/>
<text transform="translate(400.09999999999997,364.90000000000003) scale(0.89,1)" font-size="7.2" text-anchor="end" font-weight="normal" fill="#000" stroke-width="0.1">50</text>
<line x1="403.7" y1="342.5" x2="406.9" y2="342.5" stroke="#000" stroke-width="1.5"/>
<text transform="translate(400.09999999999997,344.8) scale(0.89,1)" font-size="7.2" text-anchor="end" font-weight="normal" fill="#000" stroke-width="0.1">75</text>
<line x1="403.7" y1="322.4" x2="406.9" y2="322.4" stroke="#000" stroke-width="1.5"/>
<text transform="translate(400.09999999999997,324.7) scale(0.89,1)" font-size="7.2" text-anchor="end" font-weight="normal" fill="#000" stroke-width="0.1">100</text>
<rect x="422.1" y="403.0" width="10.399999999999977" height="3.0" fill="#fff" stroke="#000" stroke-width="1.0" rx="0.6"/>
<rect x="432.5" y="403.0" width="10.399999999999977" height="3.0" fill="#fff" stroke="#000" stroke-width="1.0" rx="0.6"/>
<rect x="467.4" y="403.0" width="20.100000000000023" height="3.0" fill="#fff" stroke="#000" stroke-width="1.0" rx="0.6"/>
<text x="432.6" y="415.7" font-size="7.6" text-anchor="middle" font-weight="normal" fill="#000" textLength="17.7" lengthAdjust="spacingAndGlyphs" stroke-width="0.1">Mock</text>
<text x="477.9" y="415.7" font-size="7.6" text-anchor="middle" font-weight="normal" fill="#000" textLength="16.4" lengthAdjust="spacingAndGlyphs" stroke-width="0.1">fMLP</text>
<text x="455.4" y="310.5" font-size="9.2" text-anchor="middle" font-weight="normal" fill="#000" textLength="57.7" lengthAdjust="spacingAndGlyphs" stroke-width="0.08">Integrin avidity</text>
<line x1="466.6" y1="326.4" x2="487.4" y2="326.4" stroke="#000" stroke-width="0.95"/>
<line x1="466.6" y1="324.4" x2="466.6" y2="328.4" stroke="#000" stroke-width="0.95"/>
<line x1="487.4" y1="324.4" x2="487.4" y2="328.4" stroke="#000" stroke-width="0.95"/>
<text x="477.0" y="324.59999999999997" font-size="6.6" text-anchor="middle" font-weight="normal" fill="#000" textLength="18.5" lengthAdjust="spacingAndGlyphs" stroke-width="0.05">0.0398</text>
<line x1="422.8" y1="355.6" x2="422.8" y2="371.7" stroke="#000" stroke-width="1.35"/>
<line x1="419.3" y1="355.6" x2="426.3" y2="355.6" stroke="#000" stroke-width="1.2"/>
<line x1="419.3" y1="371.7" x2="426.3" y2="371.7" stroke="#000" stroke-width="1.2"/>
<line x1="415.90000000000003" y1="363.2" x2="429.7" y2="363.2" stroke="#000" stroke-width="1.3"/>
<circle cx="422.8" cy="348.2" r="1.7" fill="#fff" stroke="#000" stroke-width="1.45"/>
<circle cx="418.6" cy="371.7" r="1.7" fill="#fff" stroke="#000" stroke-width="1.45"/>
<circle cx="427.5" cy="370.4" r="1.7" fill="#fff" stroke="#000" stroke-width="1.45"/>
<line x1="442.3" y1="363.2" x2="442.3" y2="377.4" stroke="#000" stroke-width="1.35"/>
<line x1="438.8" y1="363.2" x2="445.8" y2="363.2" stroke="#000" stroke-width="1.2"/>
<line x1="438.8" y1="377.4" x2="445.8" y2="377.4" stroke="#000" stroke-width="1.2"/>
<line x1="435.5" y1="370.4" x2="449.1" y2="370.4" stroke="#000" stroke-width="1.3"/>
<circle cx="442.3" cy="356.3" r="1.7" fill="#fff" stroke="#c8001c" stroke-width="1.45"/>
<circle cx="442.3" cy="375.3" r="1.7" fill="#fff" stroke="#c8001c" stroke-width="1.45"/>
<circle cx="442.3" cy="379.5" r="1.7" fill="#fff" stroke="#c8001c" stroke-width="1.45"/>
<line x1="467.7" y1="346.7" x2="467.7" y2="362.0" stroke="#000" stroke-width="1.35"/>
<line x1="464.2" y1="346.7" x2="471.2" y2="346.7" stroke="#000" stroke-width="1.2"/>
<line x1="464.2" y1="362.0" x2="471.2" y2="362.0" stroke="#000" stroke-width="1.2"/>
<line x1="461.09999999999997" y1="354.3" x2="474.3" y2="354.3" stroke="#000" stroke-width="1.3"/>
<circle cx="467.7" cy="343.6" r="2.35" fill="#000"/>
<circle cx="467.7" cy="350.5" r="2.35" fill="#000"/>
<circle cx="467.7" cy="368.9" r="2.35" fill="#000"/>
<line x1="487.2" y1="359.9" x2="487.2" y2="371.5" stroke="#000" stroke-width="1.35"/>
<line x1="483.59999999999997" y1="359.9" x2="490.8" y2="359.9" stroke="#000" stroke-width="1.2"/>
<line x1="483.59999999999997" y1="371.5" x2="490.8" y2="371.5" stroke="#000" stroke-width="1.2"/>
<line x1="480.4" y1="365.9" x2="494.0" y2="365.9" stroke="#000" stroke-width="1.3"/>
<circle cx="482.5" cy="359.8" r="2.35" fill="#c8001c"/>
<circle cx="492.0" cy="360.5" r="2.35" fill="#c8001c"/>
<circle cx="487.2" cy="377.4" r="2.35" fill="#c8001c"/>
<text transform="translate(372.6,362.5) rotate(-90)" x="0" y="0" font-size="9.6" text-anchor="middle" textLength="69.2" lengthAdjust="spacingAndGlyphs">Neutrophils with integrin</text>
<text transform="translate(385.1,362.5) rotate(-90)" x="0" y="0" font-size="9.6" text-anchor="middle" textLength="35.2" lengthAdjust="spacingAndGlyphs">clusters (%)</text>
<line x1="59.5" y1="453.5" x2="59.5" y2="534.0" stroke="#000" stroke-width="1.5"/>
<line x1="56.3" y1="533.4" x2="155.8" y2="533.4" stroke="#000" stroke-width="1.5"/>
<line x1="56.3" y1="533.4" x2="59.5" y2="533.4" stroke="#000" stroke-width="1.5"/>
<text transform="translate(52.7,535.6999999999999) scale(0.89,1)" font-size="7.2" text-anchor="end" font-weight="normal" fill="#000" stroke-width="0.1">0</text>
<line x1="56.3" y1="513.58" x2="59.5" y2="513.58" stroke="#000" stroke-width="1.5"/>
<text transform="translate(52.7,515.88) scale(0.89,1)" font-size="7.2" text-anchor="end" font-weight="normal" fill="#000" stroke-width="0.1">2.5</text>
<line x1="56.3" y1="493.75" x2="59.5" y2="493.75" stroke="#000" stroke-width="1.5"/>
<text transform="translate(52.7,496.05) scale(0.89,1)" font-size="7.2" text-anchor="end" font-weight="normal" fill="#000" stroke-width="0.1">5.0</text>
<line x1="56.3" y1="473.93" x2="59.5" y2="473.93" stroke="#000" stroke-width="1.5"/>
<text transform="translate(52.7,476.23) scale(0.89,1)" font-size="7.2" text-anchor="end" font-weight="normal" fill="#000" stroke-width="0.1">7.5</text>
<line x1="56.3" y1="454.1" x2="59.5" y2="454.1" stroke="#000" stroke-width="1.5"/>
<text transform="translate(52.7,456.40000000000003) scale(0.89,1)" font-size="7.2" text-anchor="end" font-weight="normal" fill="#000" stroke-width="0.1">10</text>
<rect x="66.9" y="533.6" width="16.5" height="3.0" fill="#fff" stroke="#000" stroke-width="1.0" rx="0.6"/>
<rect x="83.4" y="533.6" width="16.299999999999997" height="3.0" fill="#fff" stroke="#000" stroke-width="1.0" rx="0.6"/>
<rect x="114.5" y="533.6" width="16.5" height="3.0" fill="#fff" stroke="#000" stroke-width="1.0" rx="0.6"/>
<rect x="131.0" y="533.6" width="16.30000000000001" height="3.0" fill="#fff" stroke="#000" stroke-width="1.0" rx="0.6"/>
<text x="83.2" y="546.9" font-size="7.6" text-anchor="middle" font-weight="normal" fill="#000" textLength="16.2" lengthAdjust="spacingAndGlyphs" stroke-width="0.1">Basal</text>
<text x="131.0" y="546.9" font-size="7.6" text-anchor="middle" font-weight="normal" fill="#000" textLength="23.4" lengthAdjust="spacingAndGlyphs" stroke-width="0.1">Primed</text>
<text x="107.8" y="442.6" font-size="9.2" text-anchor="middle" font-weight="normal" fill="#000" stroke-width="0.08">LFA-1</text>
<line x1="67.3" y1="489.5" x2="67.3" y2="498.5" stroke="#000" stroke-width="1.35"/>
<line x1="64.3" y1="489.5" x2="70.3" y2="489.5" stroke="#000" stroke-width="1.2"/>
<line x1="64.3" y1="498.5" x2="70.3" y2="498.5" stroke="#000" stroke-width="1.2"/>
<line x1="62.099999999999994" y1="494.0" x2="72.5" y2="494.0" stroke="#000" stroke-width="1.3"/>
<circle cx="67.3" cy="482.0" r="1.7" fill="#fff" stroke="#000" stroke-width="1.45"/>
<circle cx="67.3" cy="489.0" r="1.7" fill="#fff" stroke="#000" stroke-width="1.45"/>
<circle cx="63.8" cy="495.8" r="1.7" fill="#fff" stroke="#000" stroke-width="1.45"/>
<circle cx="71.2" cy="495.1" r="1.7" fill="#fff" stroke="#000" stroke-width="1.45"/>
<circle cx="67.3" cy="506.8" r="1.7" fill="#fff" stroke="#000" stroke-width="1.45"/>
<line x1="83.4" y1="487.0" x2="83.4" y2="493.0" stroke="#000" stroke-width="1.35"/>
<line x1="80.4" y1="487.0" x2="86.4" y2="487.0" stroke="#000" stroke-width="1.2"/>
<line x1="80.4" y1="493.0" x2="86.4" y2="493.0" stroke="#000" stroke-width="1.2"/>
<line x1="77.9" y1="490.1" x2="88.9" y2="490.1" stroke="#000" stroke-width="1.3"/>
<path d="M79.6,482.85 L81.19999999999999,485.8 L78.0,485.8 Z" fill="#fff" stroke="#000" stroke-width="1.1" stroke-linejoin="round"/>
<path d="M87.0,485.55 L88.6,488.5 L85.4,488.5 Z" fill="#fff" stroke="#000" stroke-width="1.1" stroke-linejoin="round"/>
<path d="M83.4,487.65 L85.0,490.59999999999997 L81.80000000000001,490.59999999999997 Z" fill="#fff" stroke="#000" stroke-width="1.1" stroke-linejoin="round"/>
<path d="M87.0,493.55 L88.6,496.5 L85.4,496.5 Z" fill="#fff" stroke="#000" stroke-width="1.1" stroke-linejoin="round"/>
<path d="M79.6,496.55 L81.19999999999999,499.5 L78.0,499.5 Z" fill="#fff" stroke="#000" stroke-width="1.1" stroke-linejoin="round"/>
<line x1="99.1" y1="496.5" x2="99.1" y2="503.5" stroke="#000" stroke-width="1.35"/>
<line x1="96.1" y1="496.5" x2="102.1" y2="496.5" stroke="#000" stroke-width="1.2"/>
<line x1="96.1" y1="503.5" x2="102.1" y2="503.5" stroke="#000" stroke-width="1.2"/>
<line x1="93.6" y1="500.0" x2="104.6" y2="500.0" stroke="#000" stroke-width="1.3"/>
<circle cx="99.1" cy="491.1" r="1.7" fill="#fff" stroke="#c8001c" stroke-width="1.45"/>
<circle cx="95.5" cy="499.0" r="1.7" fill="#fff" stroke="#c8001c" stroke-width="1.45"/>
<circle cx="102.9" cy="497.9" r="1.7" fill="#fff" stroke="#c8001c" stroke-width="1.45"/>
<circle cx="99.1" cy="501.7" r="1.7" fill="#fff" stroke="#c8001c" stroke-width="1.45"/>
<circle cx="99.1" cy="508.5" r="1.7" fill="#fff" stroke="#c8001c" stroke-width="1.45"/>
<line x1="115.1" y1="490.0" x2="115.1" y2="498.8" stroke="#000" stroke-width="1.35"/>
<line x1="112.1" y1="490.0" x2="118.1" y2="490.0" stroke="#000" stroke-width="1.2"/>
<line x1="112.1" y1="498.8" x2="118.1" y2="498.8" stroke="#000" stroke-width="1.2"/>
<line x1="109.3" y1="494.5" x2="120.89999999999999" y2="494.5" stroke="#000" stroke-width="1.3"/>
<circle cx="115.1" cy="479.3" r="2.35" fill="#000"/>
<circle cx="115.1" cy="490.7" r="2.35" fill="#000"/>
<circle cx="115.1" cy="496.9" r="2.35" fill="#000"/>
<circle cx="115.1" cy="500.8" r="2.35" fill="#000"/>
<circle cx="115.1" cy="505.1" r="2.35" fill="#000"/>
<line x1="130.8" y1="490.0" x2="130.8" y2="498.8" stroke="#000" stroke-width="1.35"/>
<line x1="127.80000000000001" y1="490.0" x2="133.8" y2="490.0" stroke="#000" stroke-width="1.2"/>
<line x1="127.80000000000001" y1="498.8" x2="133.8" y2="498.8" stroke="#000" stroke-width="1.2"/>
<line x1="125.00000000000001" y1="493.6" x2="136.60000000000002" y2="493.6" stroke="#000" stroke-width="1.3"/>
<path d="M130.8,472.0 L133.20000000000002,476.2 L128.4,476.2 Z" fill="#000"/>
<path d="M130.8,490.5 L133.20000000000002,494.7 L128.4,494.7 Z" fill="#000"/>
<path d="M126.6,493.5 L129.0,497.7 L124.19999999999999,497.7 Z" fill="#000"/>
<path d="M134.8,493.5 L137.20000000000002,497.7 L132.4,497.7 Z" fill="#000"/>
<path d="M130.8,499.2 L133.20000000000002,503.4 L128.4,503.4 Z" fill="#000"/>
<line x1="146.8" y1="496.5" x2="146.8" y2="501.0" stroke="#000" stroke-width="1.35"/>
<line x1="143.8" y1="496.5" x2="149.8" y2="496.5" stroke="#000" stroke-width="1.2"/>
<line x1="143.8" y1="501.0" x2="149.8" y2="501.0" stroke="#000" stroke-width="1.2"/>
<line x1="141.0" y1="498.8" x2="152.60000000000002" y2="498.8" stroke="#000" stroke-width="1.3"/>
<circle cx="146.8" cy="484.1" r="2.35" fill="#c8001c"/>
<circle cx="143.0" cy="499.8" r="2.35" fill="#c8001c"/>
<circle cx="150.7" cy="499.8" r="2.35" fill="#c8001c"/>
<circle cx="146.8" cy="501.7" r="2.35" fill="#c8001c"/>
<circle cx="143.0" cy="505.1" r="2.35" fill="#c8001c"/>
<circle cx="150.7" cy="504.6" r="2.35" fill="#c8001c"/>
<circle cx="146.8" cy="508.0" r="2.35" fill="#c8001c"/>
<text transform="translate(24.0,494.4) rotate(-90)" x="0" y="0" font-size="9.6" text-anchor="middle" textLength="51.8" lengthAdjust="spacingAndGlyphs">LFA-1 surface level</text>
<text transform="translate(35.5,494.4) rotate(-90)" x="0" y="0" font-size="9.6" text-anchor="middle" textLength="82" lengthAdjust="spacingAndGlyphs">(flow cytom. units <tspan font-size="12.5">×</tspan> log 10<tspan font-size="5.6" dy="-2.5">3</tspan><tspan dy="2.5">)</tspan></text>
<line x1="236.4" y1="453.7" x2="236.4" y2="534.4" stroke="#000" stroke-width="1.5"/>
<line x1="233.20000000000002" y1="533.8" x2="331.8" y2="533.8" stroke="#000" stroke-width="1.5"/>
<line x1="233.20000000000002" y1="533.8" x2="236.4" y2="533.8" stroke="#000" stroke-width="1.5"/>
<text transform="translate(229.6,536.0999999999999) scale(0.89,1)" font-size="7.2" text-anchor="end" font-weight="normal" fill="#000" stroke-width="0.1">0</text>
<line x1="233.20000000000002" y1="513.92" x2="236.4" y2="513.92" stroke="#000" stroke-width="1.5"/>
<text transform="translate(229.6,516.2199999999999) scale(0.89,1)" font-size="7.2" text-anchor="end" font-weight="normal" fill="#000" stroke-width="0.1">2.5</text>
<line x1="233.20000000000002" y1="494.05" x2="236.4" y2="494.05" stroke="#000" stroke-width="1.5"/>
<text transform="translate(229.6,496.35) scale(0.89,1)" font-size="7.2" text-anchor="end" font-weight="normal" fill="#000" stroke-width="0.1">5.0</text>
<line x1="233.20000000000002" y1="474.18" x2="236.4" y2="474.18" stroke="#000" stroke-width="1.5"/>
<text transform="translate(229.6,476.48) scale(0.89,1)" font-size="7.2" text-anchor="end" font-weight="normal" fill="#000" stroke-width="0.1">7.5</text>
<line x1="233.20000000000002" y1="454.3" x2="236.4" y2="454.3" stroke="#000" stroke-width="1.5"/>
<text transform="translate(229.6,456.6) scale(0.89,1)" font-size="7.2" text-anchor="end" font-weight="normal" fill="#000" stroke-width="0.1">10</text>
<rect x="244.5" y="534.0" width="16.0" height="3.0" fill="#fff" stroke="#000" stroke-width="1.0" rx="0.6"/>
<rect x="260.5" y="534.0" width="16.30000000000001" height="3.0" fill="#fff" stroke="#000" stroke-width="1.0" rx="0.6"/>
<rect x="292.3" y="534.0" width="15.599999999999966" height="3.0" fill="#fff" stroke="#000" stroke-width="1.0" rx="0.6"/>
<rect x="307.9" y="534.0" width="16.100000000000023" height="3.0" fill="#fff" stroke="#000" stroke-width="1.0" rx="0.6"/>
<text x="260.5" y="546.9" font-size="7.6" text-anchor="middle" font-weight="normal" fill="#000" textLength="16.2" lengthAdjust="spacingAndGlyphs" stroke-width="0.1">Basal</text>
<text x="308.0" y="546.9" font-size="7.6" text-anchor="middle" font-weight="normal" fill="#000" textLength="23.4" lengthAdjust="spacingAndGlyphs" stroke-width="0.1">Primed</text>
<text x="283.7" y="442.5" font-size="9.2" text-anchor="middle" font-weight="normal" fill="#000" stroke-width="0.08">Mac-1</text>
<line x1="244.1" y1="506.0" x2="244.1" y2="510.0" stroke="#000" stroke-width="1.35"/>
<line x1="241.6" y1="506.0" x2="246.6" y2="506.0" stroke="#000" stroke-width="1.2"/>
<line x1="241.6" y1="510.0" x2="246.6" y2="510.0" stroke="#000" stroke-width="1.2"/>
<line x1="238.6" y1="507.9" x2="249.6" y2="507.9" stroke="#000" stroke-width="1.3"/>
<circle cx="244.1" cy="504.8" r="1.7" fill="#fff" stroke="#000" stroke-width="1.45"/>
<circle cx="244.1" cy="505.9" r="1.7" fill="#fff" stroke="#000" stroke-width="1.45"/>
<circle cx="244.1" cy="512.3" r="1.7" fill="#fff" stroke="#000" stroke-width="1.45"/>
<line x1="260.0" y1="509.8" x2="260.0" y2="511.8" stroke="#000" stroke-width="1.35"/>
<line x1="257.5" y1="509.8" x2="262.5" y2="509.8" stroke="#000" stroke-width="1.2"/>
<line x1="257.5" y1="511.8" x2="262.5" y2="511.8" stroke="#000" stroke-width="1.2"/>
<line x1="254.2" y1="510.8" x2="265.8" y2="510.8" stroke="#000" stroke-width="1.3"/>
<path d="M256.2,507.65 L257.8,510.59999999999997 L254.6,510.59999999999997 Z" fill="#fff" stroke="#000" stroke-width="1.1" stroke-linejoin="round"/>
<path d="M260.0,509.55 L261.6,512.5 L258.4,512.5 Z" fill="#fff" stroke="#000" stroke-width="1.1" stroke-linejoin="round"/>
<path d="M264.3,509.55 L265.90000000000003,512.5 L262.7,512.5 Z" fill="#fff" stroke="#000" stroke-width="1.1" stroke-linejoin="round"/>
<line x1="276.4" y1="509.8" x2="276.4" y2="511.8" stroke="#000" stroke-width="1.35"/>
<line x1="273.9" y1="509.8" x2="278.9" y2="509.8" stroke="#000" stroke-width="1.2"/>
<line x1="273.9" y1="511.8" x2="278.9" y2="511.8" stroke="#000" stroke-width="1.2"/>
<line x1="271.4" y1="510.8" x2="281.4" y2="510.8" stroke="#000" stroke-width="1.3"/>
<circle cx="276.4" cy="509.0" r="1.7" fill="#fff" stroke="#c8001c" stroke-width="1.45"/>
<circle cx="272.5" cy="511.9" r="1.7" fill="#fff" stroke="#c8001c" stroke-width="1.45"/>
<circle cx="280.2" cy="511.3" r="1.7" fill="#fff" stroke="#c8001c" stroke-width="1.45"/>
<line x1="291.8" y1="485.0" x2="291.8" y2="486.8" stroke="#000" stroke-width="1.35"/>
<line x1="289.3" y1="485.0" x2="294.3" y2="485.0" stroke="#000" stroke-width="1.2"/>
<line x1="289.3" y1="486.8" x2="294.3" y2="486.8" stroke="#000" stroke-width="1.2"/>
<line x1="286.5" y1="485.8" x2="297.1" y2="485.8" stroke="#000" stroke-width="1.3"/>
<circle cx="287.9" cy="487.7" r="2.35" fill="#000"/>
<circle cx="291.8" cy="485.4" r="2.35" fill="#000"/>
<circle cx="296.0" cy="485.0" r="2.35" fill="#000"/>
<line x1="308.1" y1="481.2" x2="308.1" y2="489.6" stroke="#000" stroke-width="1.35"/>
<line x1="305.1" y1="481.2" x2="311.1" y2="481.2" stroke="#000" stroke-width="1.2"/>
<line x1="305.1" y1="489.6" x2="311.1" y2="489.6" stroke="#000" stroke-width="1.2"/>
<line x1="302.3" y1="485.8" x2="313.90000000000003" y2="485.8" stroke="#000" stroke-width="1.3"/>
<path d="M308.1,476.2 L310.5,480.4 L305.70000000000005,480.4 Z" fill="#000"/>
<path d="M308.1,480.0 L310.5,484.2 L305.70000000000005,484.2 Z" fill="#000"/>
<path d="M308.1,491.5 L310.5,495.7 L305.70000000000005,495.7 Z" fill="#000"/>
<line x1="324.1" y1="487.7" x2="324.1" y2="491.5" stroke="#000" stroke-width="1.35"/>
<line x1="321.1" y1="487.7" x2="327.1" y2="487.7" stroke="#000" stroke-width="1.2"/>
<line x1="321.1" y1="491.5" x2="327.1" y2="491.5" stroke="#000" stroke-width="1.2"/>
<line x1="318.20000000000005" y1="489.6" x2="330.0" y2="489.6" stroke="#000" stroke-width="1.3"/>
<circle cx="320.2" cy="486.9" r="2.35" fill="#c8001c"/>
<circle cx="327.9" cy="489.8" r="2.35" fill="#c8001c"/>
<circle cx="324.1" cy="494.0" r="2.35" fill="#c8001c"/>
<text transform="translate(199.8,493.8) rotate(-90)" x="0" y="0" font-size="9.6" text-anchor="middle" textLength="54.5" lengthAdjust="spacingAndGlyphs">Mac-1 surface level</text>
<text transform="translate(210.9,493.8) rotate(-90)" x="0" y="0" font-size="9.6" text-anchor="middle" textLength="71.4" lengthAdjust="spacingAndGlyphs">(flow cytom. units <tspan font-size="12.5">×</tspan> 10<tspan font-size="5.6" dy="-2.5">3</tspan><tspan dy="2.5">)</tspan></text>
<line x1="406.9" y1="453.0" x2="406.9" y2="534.4" stroke="#000" stroke-width="1.5"/>
<line x1="403.7" y1="533.8" x2="503.7" y2="533.8" stroke="#000" stroke-width="1.5"/>
<line x1="403.7" y1="533.8" x2="406.9" y2="533.8" stroke="#000" stroke-width="1.5"/>
<text transform="translate(400.09999999999997,536.0999999999999) scale(0.89,1)" font-size="7.2" text-anchor="end" font-weight="normal" fill="#000" stroke-width="0.1">0</text>
<line x1="403.7" y1="513.75" x2="406.9" y2="513.75" stroke="#000" stroke-width="1.5"/>
<text transform="translate(400.09999999999997,516.05) scale(0.89,1)" font-size="7.2" text-anchor="end" font-weight="normal" fill="#000" stroke-width="0.1">20</text>
<line x1="403.7" y1="493.7" x2="406.9" y2="493.7" stroke="#000" stroke-width="1.5"/>
<text transform="translate(400.09999999999997,496.0) scale(0.89,1)" font-size="7.2" text-anchor="end" font-weight="normal" fill="#000" stroke-width="0.1">40</text>
<line x1="403.7" y1="473.65" x2="406.9" y2="473.65" stroke="#000" stroke-width="1.5"/>
<text transform="translate(400.09999999999997,475.95) scale(0.89,1)" font-size="7.2" text-anchor="end" font-weight="normal" fill="#000" stroke-width="0.1">60</text>
<line x1="403.7" y1="453.6" x2="406.9" y2="453.6" stroke="#000" stroke-width="1.5"/>
<text transform="translate(400.09999999999997,455.90000000000003) scale(0.89,1)" font-size="7.2" text-anchor="end" font-weight="normal" fill="#000" stroke-width="0.1">80</text>
<rect x="422.1" y="534.0" width="20.399999999999977" height="3.0" fill="#fff" stroke="#000" stroke-width="1.0" rx="0.6"/>
<rect x="467.5" y="534.0" width="20.0" height="3.0" fill="#fff" stroke="#000" stroke-width="1.0" rx="0.6"/>
<text x="432.6" y="546.9" font-size="7.6" text-anchor="middle" font-weight="normal" fill="#000" textLength="17.7" lengthAdjust="spacingAndGlyphs" stroke-width="0.1">Mock</text>
<text x="477.9" y="546.9" font-size="7.6" text-anchor="middle" font-weight="normal" fill="#000" textLength="16.4" lengthAdjust="spacingAndGlyphs" stroke-width="0.1">fMLP</text>
<line x1="422.8" y1="486.9" x2="422.8" y2="507.4" stroke="#000" stroke-width="1.35"/>
<line x1="419.3" y1="486.9" x2="426.3" y2="486.9" stroke="#000" stroke-width="1.2"/>
<line x1="419.3" y1="507.4" x2="426.3" y2="507.4" stroke="#000" stroke-width="1.2"/>
<line x1="415.90000000000003" y1="497.3" x2="429.7" y2="497.3" stroke="#000" stroke-width="1.3"/>
<circle cx="422.8" cy="477.8" r="1.7" fill="#fff" stroke="#000" stroke-width="1.45"/>
<circle cx="422.8" cy="505.3" r="1.7" fill="#fff" stroke="#000" stroke-width="1.45"/>
<circle cx="422.8" cy="509.5" r="1.7" fill="#fff" stroke="#000" stroke-width="1.45"/>
<line x1="442.3" y1="492.6" x2="442.3" y2="504.2" stroke="#000" stroke-width="1.35"/>
<line x1="438.8" y1="492.6" x2="445.8" y2="492.6" stroke="#000" stroke-width="1.2"/>
<line x1="438.8" y1="504.2" x2="445.8" y2="504.2" stroke="#000" stroke-width="1.2"/>
<line x1="435.5" y1="498.3" x2="449.1" y2="498.3" stroke="#000" stroke-width="1.3"/>
<circle cx="442.3" cy="489.8" r="1.7" fill="#fff" stroke="#c8001c" stroke-width="1.45"/>
<circle cx="442.3" cy="495.1" r="1.7" fill="#fff" stroke="#c8001c" stroke-width="1.45"/>
<circle cx="442.3" cy="510.0" r="1.7" fill="#fff" stroke="#c8001c" stroke-width="1.45"/>
<line x1="467.7" y1="477.8" x2="467.7" y2="496.4" stroke="#000" stroke-width="1.35"/>
<line x1="464.2" y1="477.8" x2="471.2" y2="477.8" stroke="#000" stroke-width="1.2"/>
<line x1="464.2" y1="496.4" x2="471.2" y2="496.4" stroke="#000" stroke-width="1.2"/>
<line x1="461.09999999999997" y1="487.3" x2="474.3" y2="487.3" stroke="#000" stroke-width="1.3"/>
<circle cx="467.7" cy="471.4" r="2.35" fill="#000"/>
<circle cx="467.7" cy="486.9" r="2.35" fill="#000"/>
<circle cx="467.7" cy="503.6" r="2.35" fill="#000"/>
<line x1="487.2" y1="476.3" x2="487.2" y2="493.2" stroke="#000" stroke-width="1.35"/>
<line x1="483.7" y1="476.3" x2="490.7" y2="476.3" stroke="#000" stroke-width="1.2"/>
<line x1="483.7" y1="493.2" x2="490.7" y2="493.2" stroke="#000" stroke-width="1.2"/>
<line x1="480.4" y1="484.8" x2="494.0" y2="484.8" stroke="#000" stroke-width="1.3"/>
<circle cx="487.2" cy="474.0" r="2.35" fill="#c8001c"/>
<circle cx="487.2" cy="479.9" r="2.35" fill="#c8001c"/>
<circle cx="487.2" cy="501.1" r="2.35" fill="#c8001c"/>
<text transform="translate(372.6,494.2) rotate(-90)" x="0" y="0" font-size="9.6" text-anchor="middle" textLength="73.2" lengthAdjust="spacingAndGlyphs">Neutrophils with polarised</text>
<text transform="translate(385.1,494.2) rotate(-90)" x="0" y="0" font-size="9.6" text-anchor="middle" textLength="58" lengthAdjust="spacingAndGlyphs">integrin clusters (%)</text>
<rect x="0" y="0" width="520" height="560" fill="none" stroke="#000" stroke-width="3"/>
</svg></body></html>
